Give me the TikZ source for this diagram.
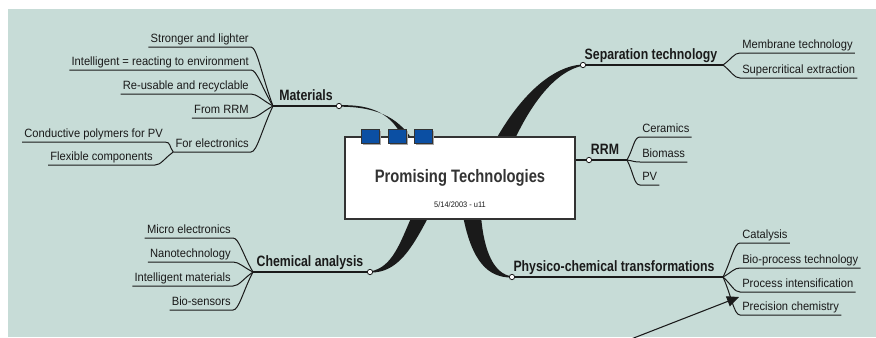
\documentclass[tikz,border=0pt]{standalone}
\usepackage{fontspec}
\setmainfont{Liberation Sans}
\newfontfamily\leaffont{Liberation Sans}[FakeStretch=0.93]
\newfontfamily\topicfont{Liberation Sans}[FakeStretch=0.82]
\usetikzlibrary{calc,arrows.meta,shadows}
\definecolor{mapbg}{HTML}{C7DCD7}
\definecolor{ink}{HTML}{1A1A1A}
\definecolor{boxblue}{HTML}{0B4FA3}
\definecolor{boxedge}{HTML}{333333}
\definecolor{titlegrey}{HTML}{333333}
\begin{document}
\begin{tikzpicture}[x=0.75pt,y=-0.75pt,
  leaf/.style={inner xsep=1.5pt, inner ysep=0.8pt, text depth=2.6pt,
    font=\leaffont\fontsize{9pt}{10pt}\selectfont, text=ink},
  topic/.style={inner xsep=0.8pt, inner ysep=0.8pt, text depth=3pt,
    font=\topicfont\bfseries\fontsize{11.25pt}{12pt}\selectfont, text=ink},
  twig/.style={draw=ink, line width=0.75pt},
  stem/.style={draw=ink, line width=1pt},
  limb/.style={fill=ink},
  knot/.style={circle, draw=ink, fill=white, line width=0.6pt, inner sep=0pt, minimum size=4pt},
  branch/.style={to path={.. controls ($(\tikztostart)!0.5!(\tikztotarget)$)
      and ($(\tikztotarget)+(#1,0)$) .. (\tikztotarget) \tikztonodes}},
  tab/.style={draw=boxedge, fill=boxblue, line width=0.5pt, minimum width=13.5pt,
    minimum height=10.5pt, inner sep=0pt,
    drop shadow={shadow xshift=1.5pt, shadow yshift=-1.5pt, fill=gray!70, opacity=1}}
]
% canvas
\useasboundingbox (0,0) rectangle (876,337);
\clip (0,0) rectangle (876,337);
\fill[white] (0,0) rectangle (876,337);
\fill[mapbg] (8,9) rectangle (876,337);

% tapered main branches (drawn under the central box)
\fill[limb] (339,105.3) .. controls (372,104) and (393,114) .. (404,141)
  -- (413,141) .. controls (398,116) and (374,106.5) .. (339,106.7) -- cycle;
\fill[limb] (583,64.4) .. controls (552,66) and (520,96) .. (495,141)
  -- (514,141) .. controls (532,102) and (556,71) .. (583,65.6) -- cycle;
\fill[limb] (370,271.4) .. controls (393,268) and (401,240) .. (412,216)
  -- (429,216) .. controls (412,248) and (398,273) .. (370,272.6) -- cycle;
\fill[limb] (463,216) .. controls (472,262) and (488,277.6) .. (512,277.6)
  -- (512,276.4) .. controls (494,274) and (484,252) .. (481,216) -- cycle;

% central topic
\node[draw=boxedge, fill=white, line width=0.8pt, minimum width=172.5pt,
  minimum height=61.5pt, inner sep=0pt] (box) at (460,178) {};
\node[tab] (tab1) at (370,136) {};
\node[tab] (tab2) at (397,136) {};
\node[tab] (tab3) at (423,136) {};
\node[font=\topicfont\bfseries\fontsize{13.5pt}{15pt}\selectfont, text=titlegrey,
  anchor=base] (title) at (460,182) {Promising Technologies};
\node[font=\leaffont\fontsize{6pt}{7pt}\selectfont, text=ink, anchor=base]
  (date) at (460,207) {5/14/2003 - u11};

% ---- Materials ----
\coordinate (matF) at (273,106);
\node[knot] (matD) at (339,106) {};
\draw[stem] (matF) -- (matD);
\node[topic, anchor=south] (mat) at (306,105.5) {Materials};
\node[leaf, anchor=south east] (ml1) at (251,47) {Stronger and lighter};
\node[leaf, anchor=south east] (ml2) at (251,70) {Intelligent = reacting to environment};
\node[leaf, anchor=south east] (ml3) at (251,94) {Re-usable and recyclable};
\node[leaf, anchor=south east] (ml4) at (251,118) {From RRM};
\node[leaf, anchor=south east] (ml5) at (251,152) {For electronics};
\foreach \n in {ml1,ml2,ml3,ml4,ml5}
  \draw[twig] (matF) to[branch=6] (\n.south east) -- (\n.south west);
\coordinate (elF) at (ml5.south west);
\node[leaf, anchor=south east] (el1) at (165,142) {Conductive polymers for PV};
\node[leaf, anchor=south east] (el2) at (155,165) {Flexible components};
\foreach \n in {el1,el2}
  \draw[twig] (elF) to[branch=6] (\n.south east) -- (\n.south west);

% ---- Separation technology ----
\node[knot] (sepD) at (583,65) {};
\coordinate (sepF) at (723,65);
\draw[stem] (sepD) -- (sepF);
\node[topic, anchor=south] (sep) at (651,64.5) {Separation technology};
\node[leaf, anchor=south west] (sl1) at (740,53) {Membrane technology};
\node[leaf, anchor=south west] (sl2) at (740,78) {Supercritical extraction};
\foreach \n in {sl1,sl2}
  \draw[twig] (sepF) to[branch=-6] (\n.south west) -- (\n.south east);

% ---- RRM ----
\coordinate (rrmA) at (box.east |- 0,160);
\node[knot] (rrmD) at (589,160) {};
\coordinate (rrmF) at (627,160);
\draw[ink, line width=1.4pt] (rrmA) -- (rrmD);
\draw[stem] (rrmD) -- (rrmF);
\node[topic, anchor=south] (rrm) at (605,159.5) {RRM};
\node[leaf, anchor=south west] (rl1) at (640,137) {Ceramics};
\node[leaf, anchor=south west] (rl2) at (640,162) {Biomass};
\node[leaf, anchor=south west] (rl3) at (640,185) {PV};
\foreach \n in {rl1,rl2,rl3}
  \draw[twig] (rrmF) to[branch=-6] (\n.south west) -- (\n.south east);

% ---- Chemical analysis ----
\coordinate (chemF) at (253,272);
\node[knot] (chemD) at (370,272) {};
\draw[stem] (chemF) -- (chemD);
\node[topic, anchor=south] (chem) at (310,271.5) {Chemical analysis};
\node[leaf, anchor=south east] (cl1) at (233,238) {Micro electronics};
\node[leaf, anchor=south east] (cl2) at (233,262) {Nanotechnology};
\node[leaf, anchor=south east] (cl3) at (233,286) {Intelligent materials};
\node[leaf, anchor=south east] (cl4) at (233,310) {Bio-sensors};
\foreach \n in {cl1,cl2,cl3,cl4}
  \draw[twig] (chemF) to[branch=6] (\n.south east) -- (\n.south west);

% ---- Physico-chemical transformations ----
\node[knot] (physD) at (512,277) {};
\coordinate (physF) at (723,277);
\draw[stem] (physD) -- (physF);
\node[topic, anchor=south] (phys) at (614,276.5) {Physico-chemical transformations};
\node[leaf, anchor=south west] (pl1) at (740,243) {Catalysis};
\node[leaf, anchor=south west] (pl2) at (740,268) {Bio-process technology};
\node[leaf, anchor=south west] (pl3) at (740,292) {Process intensification};
\node[leaf, anchor=south west] (pl4) at (740,315) {Precision chemistry};
\foreach \n in {pl1,pl2,pl3,pl4}
  \draw[twig] (physF) to[branch=-6] (\n.south west) -- (\n.south east);

% pointer
\coordinate (ptail) at (626,341);
\coordinate (ptip) at (739,297);
\draw[ink, line width=0.8pt, -{Triangle[length=9pt,width=8pt]}] (ptail) -- (ptip);
\end{tikzpicture}
\end{document}
